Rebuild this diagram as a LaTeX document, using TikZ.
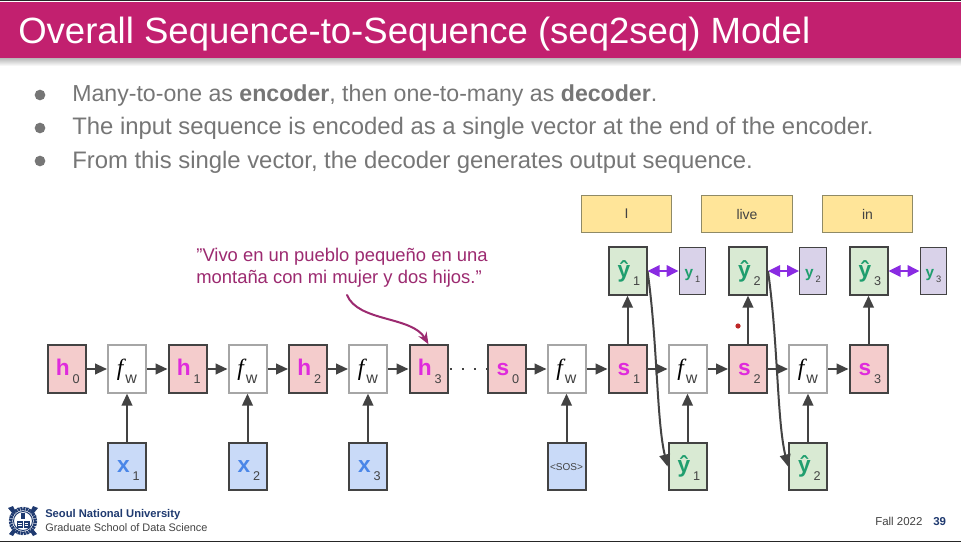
\documentclass[tikz,border=0pt]{standalone}
\usepackage{fontspec}
\setmainfont{Liberation Sans}
\newfontfamily\serifit{Liberation Serif}
\usetikzlibrary{arrows.meta}
\definecolor{band}{HTML}{C2206F}
\definecolor{bodytext}{HTML}{767676}
\definecolor{darkline}{HTML}{434343}
\definecolor{lightline}{HTML}{A6A6A6}
\definecolor{pinkfill}{HTML}{F4CCCC}
\definecolor{bluefill}{HTML}{C9DAF8}
\definecolor{greenfill}{HTML}{D9EAD3}
\definecolor{lilacfill}{HTML}{D9D2E9}
\definecolor{yellowfill}{HTML}{FFE599}
\definecolor{yellowline}{HTML}{8F8A66}
\definecolor{magletter}{HTML}{DF2BDC}
\definecolor{blueletter}{HTML}{4A86E8}
\definecolor{greenletter}{HTML}{1F9E6E}
\definecolor{capcolor}{HTML}{9C2A70}
\definecolor{dbl}{HTML}{8A2BE2}
\definecolor{navy}{HTML}{1F3A70}
\definecolor{subtext}{HTML}{434343}
\newcommand\boxlabel[3]{\hspace{2pt}{\color{#1}\fontsize{17pt}{17pt}\selectfont\bfseries #2}\hspace{2.2pt}\raisebox{-6pt}{\color{subtext}\fontsize{9.5pt}{9.5pt}\selectfont #3}}
\newcommand\smalllabel[3]{{\color{#1}\fontsize{11.5pt}{11.5pt}\selectfont\bfseries #2}\hspace{1.5pt}\raisebox{-3.5pt}{\color{subtext}\fontsize{7pt}{7pt}\selectfont #3}}
\newcommand\fwlabel{{\serifit\itshape\fontsize{17.5pt}{17.5pt}\selectfont f}\hspace{1.5pt}\raisebox{-6pt}{\color{subtext}\fontsize{12pt}{12pt}\selectfont w}}
\tikzset{
  cell/.style={draw=darkline,line width=1.5pt,minimum width=28.5pt,minimum height=35.5pt,inner sep=0pt,text=black,text height=14pt,text depth=4.5pt},
  hcell/.style={cell,fill=pinkfill},
  fcell/.style={cell,draw=lightline,fill=white},
  xcell/.style={cell,fill=bluefill},
  ycell/.style={cell,fill=greenfill},
  truth/.style={draw=darkline,line width=.9pt,fill=lilacfill,minimum width=20pt,minimum height=35.5pt,inner sep=0pt,text height=12pt,text depth=2pt},
  word/.style={draw=yellowline,line width=.9pt,fill=yellowfill,minimum width=68pt,minimum height=28pt,inner sep=0pt,text=subtext,font=\fontsize{10.5pt}{10.5pt}\selectfont},
  conn/.style={draw=darkline,line width=1.5pt,-{Triangle[length=9pt,width=8pt]}},
  match/.style={draw=dbl,line width=1.6pt,{Triangle[length=9pt,width=8.5pt]}-{Triangle[length=9pt,width=8.5pt]}},
  bullettext/.style={anchor=base west,text=bodytext,inner sep=0pt,font=\fontsize{17.9pt}{17.9pt}\selectfont},
  bulletdot/.style={circle,fill=bodytext,minimum size=8pt,inner sep=0pt},
}
\begin{document}
\begin{tikzpicture}[x=0.75pt,y=-0.75pt]
\useasboundingbox (0,0) rectangle (961,542);
\fill[white] (0,0) rectangle (961,542);
% header
\shade[top color=black!28,bottom color=white] (0,58) rectangle (961,66);
\fill[band] (0,2) rectangle (961,58);
\fill[black!85] (0,0) rectangle (961,1.5);
\fill[black!85] (0,540.5) rectangle (961,542);
\node[anchor=base west,text=white,inner sep=0pt,font=\fontsize{27.4pt}{27.4pt}\selectfont] (title) at (18,43.5) {Overall Sequence-to-Sequence (seq2seq) Model};
% bullets
\node[bulletdot] (b1) at (40,95) {};
\node[bulletdot] (b2) at (40,128) {};
\node[bulletdot] (b3) at (40,161) {};
\node[bullettext,font=\fontsize{17.35pt}{17.35pt}\selectfont] (t1) at (72,102) {Many-to-one as \textbf{encoder}, then one-to-many as \textbf{decoder}.};
\node[bullettext] (t2) at (72,135) {The input sequence is encoded as a single vector at the end of the encoder.};
\node[bullettext] (t3) at (72,168) {From this single vector, the decoder generates output sequence.};
% encoder row
\node[hcell] (h0) at (66.5,369) {\boxlabel{magletter}{h}{0}};
\node[fcell] (f1) at (127,369) {\fwlabel};
\node[hcell] (h1) at (187.5,369) {\boxlabel{magletter}{h}{1}};
\node[fcell] (f2) at (247.5,369) {\fwlabel};
\node[hcell] (h2) at (308,369) {\boxlabel{magletter}{h}{2}};
\node[fcell] (f3) at (368,369) {\fwlabel};
\node[hcell] (h3) at (428.5,369) {\boxlabel{magletter}{h}{3}};
% decoder row
\node[hcell] (s0) at (506.5,369) {\boxlabel{magletter}{s}{0}};
\node[fcell] (f4) at (566.5,369) {\fwlabel};
\node[hcell] (s1) at (627.5,369) {\boxlabel{magletter}{s}{1}};
\node[fcell] (f5) at (687.5,369) {\fwlabel};
\node[hcell] (s2) at (748,369) {\boxlabel{magletter}{s}{2}};
\node[fcell] (f6) at (808,369) {\fwlabel};
\node[hcell] (s3) at (868.5,369) {\boxlabel{magletter}{s}{3}};
% inputs
\node[xcell] (x1) at (127,466.5) {\boxlabel{blueletter}{x}{1}};
\node[xcell] (x2) at (247.5,466.5) {\boxlabel{blueletter}{x}{2}};
\node[xcell] (x3) at (368,466.5) {\boxlabel{blueletter}{x}{3}};
\node[xcell,text=subtext,text height=5.5pt,text depth=0pt,font=\fontsize{7.5pt}{7.5pt}\selectfont] (x4) at (566.5,466.5) {<SOS>};
\node[ycell] (yb1) at (687.5,466.5) {\boxlabel{greenletter}{ŷ}{1}};
\node[ycell] (yb2) at (808,466.5) {\boxlabel{greenletter}{ŷ}{2}};
% outputs
\node[ycell] (yh1) at (627.5,271) {\boxlabel{greenletter}{ŷ}{1}};
\node[ycell] (yh2) at (748,271) {\boxlabel{greenletter}{ŷ}{2}};
\node[ycell] (yh3) at (868.5,271) {\boxlabel{greenletter}{ŷ}{3}};
\node[truth] (y1) at (692.5,271) {\smalllabel{greenletter}{y}{1}};
\node[truth] (y2) at (813,271) {\smalllabel{greenletter}{y}{2}};
\node[truth] (y3) at (933.5,271) {\smalllabel{greenletter}{y}{3}};
% words
\node[word] (w1) at (626.5,214) {I};
\node[word] (w2) at (747,214) {live};
\node[word] (w3) at (867.5,214) {in};
% connectors
\foreach \a/\b in {h0/f1,f1/h1,h1/f2,f2/h2,h2/f3,f3/h3,s0/f4,f4/s1,s1/f5,f5/s2,s2/f6,f6/s3,
                   x1/f1,x2/f2,x3/f3,x4/f4,yb1/f5,yb2/f6,s1/yh1,s2/yh2,s3/yh3}
  \draw[conn] (\a) -- (\b);
\foreach \a/\b in {yh1/y1,yh2/y2,yh3/y3}
  \draw[match] (\a) -- (\b);
\draw[conn] (yh1.east) .. controls +(10,70) and +(-11,-46) .. (yb1.west);
\draw[conn] (yh2.east) .. controls +(10,70) and +(-11,-46) .. (yb2.west);
\draw[draw=darkline,line width=1.6pt,dash pattern=on 1.6pt off 7.4pt,dash phase=-1pt] (h3) -- (s0);
% caption
\node[align=left,text=capcolor,inner sep=0pt,font=\fontsize{13.8pt}{16.7pt}\selectfont] (cap) at (342,268) {”Vivo en un pueblo pequeño en una\\montaña con mi mujer y dos hijos.”};
\coordinate (capfoot) at (347,295);
\draw[draw=capcolor,line width=1.5pt,line cap=round,-{Stealth[length=9pt,width=7pt]}] (capfoot) .. controls (358,322) and (412,316) .. (h3.north);
\fill[red!70!black!85] (738,326) circle (2.6);
% logo
\begin{scope}[shift={(23,521)}]
  \draw[navy,line width=2.6pt,dash pattern=on 1.6pt off .5pt] (0,0) circle (12.5);
  \draw[navy,line width=.7pt] (0,0) circle (9.5);
  \fill[navy] (-15,-13) -- (-10,-15) -- (-7,-9) -- (-10,-7) -- cycle;
  \fill[navy] (15,-13) -- (10,-15) -- (7,-9) -- (10,-7) -- cycle;
  \fill[navy] (-14,13) -- (-10,15) -- (-7,10) -- (-10,8) -- cycle;
  \fill[navy] (14,13) -- (10,15) -- (7,10) -- (10,8) -- cycle;
  \fill[navy] (-6.5,0) rectangle (6.5,7);
  \draw[white,line width=.5pt] (0,0) -- (0,7) (-5,2.5) -- (-1.5,2.5) (1.5,2.5) -- (5,2.5) (-5,4.5) -- (-1.5,4.5) (1.5,4.5) -- (5,4.5);
  \fill[navy] (-2,-8) rectangle (2,-2);
\end{scope}
\node[anchor=base west,inner sep=0pt,text=navy,font=\bfseries\fontsize{8.4pt}{8.4pt}\selectfont] (uni) at (45,517) {Seoul National University};
\node[anchor=base west,inner sep=0pt,text=darkline,font=\fontsize{8.2pt}{8.2pt}\selectfont] (school) at (45,531.5) {Graduate School of Data Science};
\node[anchor=base west,inner sep=0pt,text=darkline,font=\fontsize{8.6pt}{8.6pt}\selectfont] (fall) at (875,525) {Fall 2022};
\node[anchor=base west,inner sep=0pt,text=navy,font=\bfseries\fontsize{8.6pt}{8.6pt}\selectfont] (pg) at (933,525) {39};
\end{tikzpicture}
\end{document}
